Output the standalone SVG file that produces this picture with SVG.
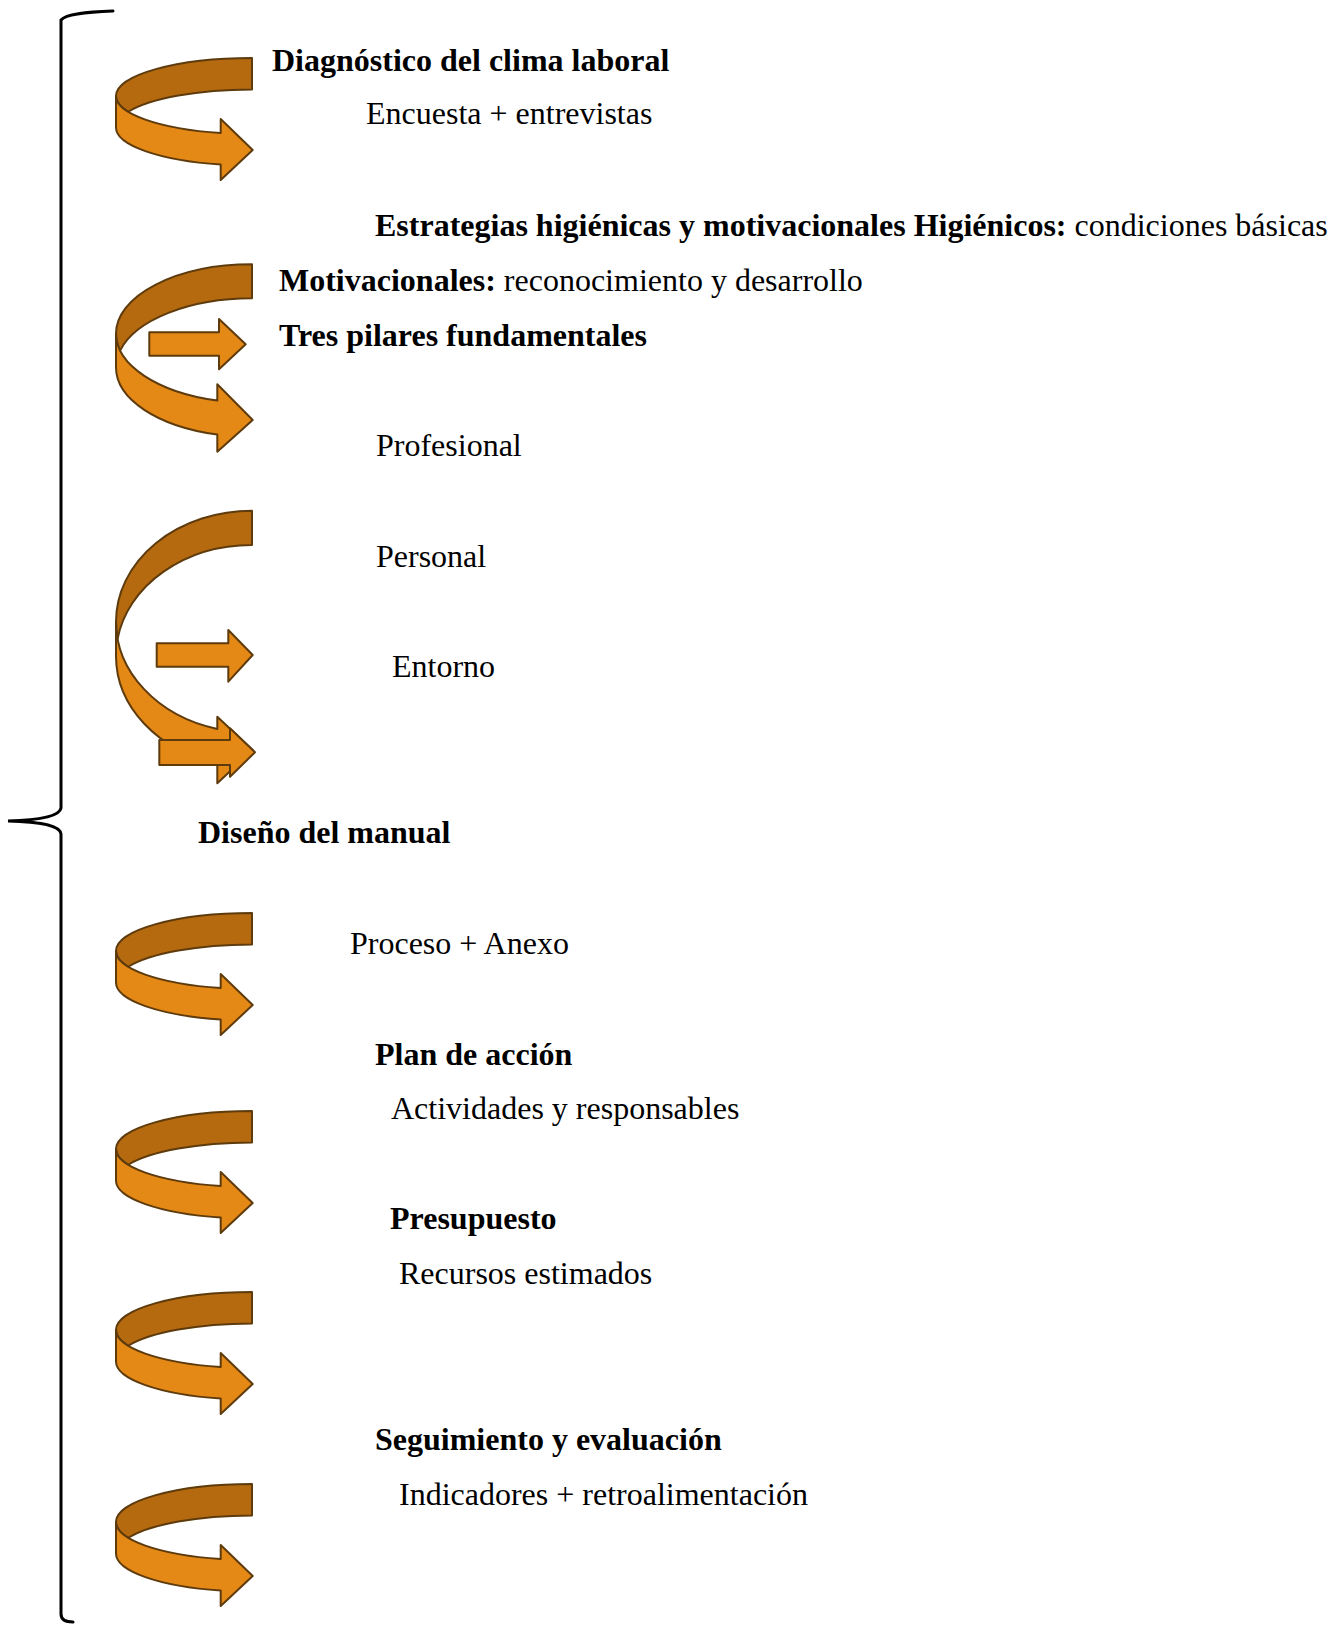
<svg xmlns="http://www.w3.org/2000/svg" xmlns:xlink="http://www.w3.org/1999/xlink" width="1338" height="1625" viewBox="0 0 1338 1625">
<style>
text{font-family:"Liberation Serif","Times New Roman",serif;font-size:32px;fill:#000}
.b{font-weight:bold}
.back{fill:#B56A10;stroke:#5E3B0C;stroke-width:2;stroke-linejoin:round}
.front{fill:#E48816;stroke:#5E3B0C;stroke-width:2;stroke-linejoin:round}
.brace{fill:none;stroke:#000;stroke-width:3;stroke-linecap:round}
</style>
<defs>
<g id="arrowA">
<path class="back" d="M252,58 A136,38 0 0 0 116,96 A136,38 0 0 0 128.2,111.75 A136,38 0 0 1 252,89.5 Z"/>
<path class="front" d="M116,96 A136,38 0 0 0 220.7,133 L220.7,119 L252.7,150 L220.7,180 L220.7,164.5 A136,38 0 0 1 116,127.5 Z"/>
</g>
</defs>
<rect width="1338" height="1625" fill="#fff"/>
<g id="connectors">
<path class="brace" d="M113,11 C85,12 66,14 61,20 L61,808 C60,815 45,820 8,821 C45,822 60,826 61,834 L61,1614 C61,1619 65,1622 73,1622"/>
<use xlink:href="#arrowA"/>
<g id="arrow-big-1">
<path class="back" d="M252,264.3 A136,69.3 0 0 0 116,333.6 A136,69.3 0 0 0 120.1,350.6 A136,69.3 0 0 1 252,298.3 Z"/>
<path class="front" d="M116,333.6 A136,69.3 0 0 0 217.3,400.6 L217.3,384.3 L252.7,420 L217.3,451.7 L217.3,434.6 A136,69.3 0 0 1 116,367.6 Z"/>
<path class="front" d="M149.3,332.3 L219,332.3 L219,319 L245.7,344.3 L219,369.3 L219,355.7 L149.3,355.7 Z"/>
</g>
<g id="arrow-big-2">
<path class="back" d="M252,510.7 A136,111 0 0 0 116,621.7 A136,111 0 0 0 117.6,638.85 A136,111 0 0 1 252,545 Z"/>
<path class="front" d="M116,621.7 A136,111 0 0 0 217.3,729 L217.3,716.7 L252.7,750 L217.3,783.3 L217.3,763.3 A136,111 0 0 1 116,656 Z"/>
<path class="front" d="M156.7,643.3 L228.3,643.3 L228.3,630 L252.7,655 L228.3,681.7 L228.3,666.7 L156.7,666.7 Z"/>
<path class="front" d="M159.3,740 L230,740 L230,728.3 L255,752.3 L230,776.7 L230,765 L159.3,765 Z"/>
</g>
<use xlink:href="#arrowA" transform="translate(0,855)"/>
<use xlink:href="#arrowA" transform="translate(0,1053)"/>
<use xlink:href="#arrowA" transform="translate(0,1234)"/>
<use xlink:href="#arrowA" transform="translate(0,1426)"/>
</g>
<g id="n-diagnostico"><text class="b" x="272" y="71">Diagnóstico del clima laboral</text></g>
<g id="n-encuesta"><text x="366" y="124">Encuesta + entrevistas</text></g>
<g id="n-estrategias"><text x="375" y="236"><tspan class="b">Estrategias higiénicas y motivacionales Higiénicos:</tspan> condiciones básicas</text></g>
<g id="n-motivacionales"><text x="279" y="291"><tspan class="b">Motivacionales:</tspan> reconocimiento y desarrollo</text></g>
<g id="n-pilares"><text class="b" x="279" y="346">Tres pilares fundamentales</text></g>
<g id="n-profesional"><text x="376" y="456">Profesional</text></g>
<g id="n-personal"><text x="376" y="567">Personal</text></g>
<g id="n-entorno"><text x="392" y="677">Entorno</text></g>
<g id="n-diseno"><text class="b" x="198" y="843">Diseño del manual</text></g>
<g id="n-proceso"><text x="350" y="954">Proceso + Anexo</text></g>
<g id="n-plan"><text class="b" x="375" y="1065">Plan de acción</text></g>
<g id="n-actividades"><text x="391" y="1119">Actividades y responsables</text></g>
<g id="n-presupuesto"><text class="b" x="390" y="1229">Presupuesto</text></g>
<g id="n-recursos"><text x="399" y="1284">Recursos estimados</text></g>
<g id="n-seguimiento"><text class="b" x="375" y="1450">Seguimiento y evaluación</text></g>
<g id="n-indicadores"><text x="399" y="1505">Indicadores + retroalimentación</text></g>
</svg>
